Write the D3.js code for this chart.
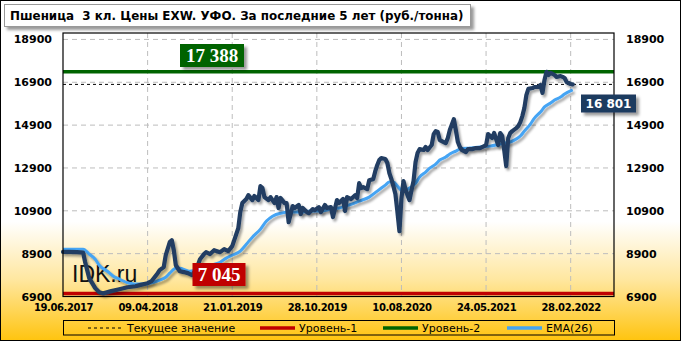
<!DOCTYPE html>
<html><head><meta charset="utf-8">
<script src="https://cdn.jsdelivr.net/npm/d3@7"></script>
<style>html,body{margin:0;padding:0;background:#fff}svg{display:block}</style>
</head><body>
<script>
// ---- data ----
const titleText = "Пшеница  3 кл. Цены EXW. УФО. За последние 5 лет (руб./тонна)";
const xTickIndex = [0, 42, 84, 126, 168, 210, 252];
const xTickLabels = ["19.06.2017","09.04.2018","21.01.2019","28.10.2019","10.08.2020","24.05.2021","28.02.2022"];
const yTicks = [6900, 8900, 10900, 12900, 14900, 16900, 18900];
const level1 = 7045, level2 = 17388, currentValue = 16801;
const priceIndex = [0,3,7,10,11,13,16,18,20,24,28,32,36,38,42,44,47,48,50,51,53,54,55,56,58,60,62,64,66,68,70,71,73,75,78,80,82,84,85,87,88,89,91,92,94,95,97,98,99,100,102,103,105,106,107,108,110,111,112,114,115,117,118,119,121,122,124,125,127,128,130,131,133,134,136,137,139,140,141,143,145,146,147,148,149,151,152,154,155,156,157,158,160,161,162,163,164,165,166,167,168,169,170,171,172,173,174,175,176,177,179,180,181,183,184,185,186,187,189,190,191,192,194,195,196,197,198,200,201,203,205,207,209,210,211,213,214,216,217,218,219,220,221,222,223,225,226,227,228,229,230,231,233,234,236,237,238,239,240,241,242,244,245,247,248,249,250,252,253];
const priceValues = [8980,8980,8970,8950,8500,7760,7290,7100,7045,7150,7240,7330,7380,7430,7520,7620,7990,8130,8270,8830,9440,9530,9060,8360,8080,8040,7990,7900,8130,8640,8880,8970,8880,9060,8970,9110,9020,9250,9530,10090,10840,11260,11450,11630,11400,11590,11400,12050,11960,11540,11400,11540,11260,11540,11030,11500,11260,11260,10370,11120,11030,11170,10750,11030,10840,10790,10980,10930,11070,10840,11170,11030,11070,10610,11400,11260,11450,10890,11540,11450,11630,11490,12190,11960,12010,11910,12330,12380,12750,13040,13270,13360,13320,13130,12660,12380,12050,11680,10840,9950,11490,12290,11910,11630,11400,11870,12290,13180,13600,13780,13740,13880,13740,13970,14480,14620,14580,14200,14110,14060,14300,14670,15180,14670,14110,13880,13740,13640,13780,13780,13830,13830,13920,13970,14480,14300,14530,13970,14530,14390,13740,12990,14300,14530,14620,14760,14860,15040,15320,15700,16300,16590,16630,16680,16680,16770,16400,17010,17388,17240,17340,17240,17150,17190,17150,17100,16910,16820,16801];
const emaIndex = [0,10,13,16,18,22,25,28,33,38,43,48,51,53,56,58,61,63,68,73,78,81,84,88,91,94,98,101,104,108,113,118,123,128,133,137,142,147,152,156,160,162,164,166,168,170,172,175,177,180,182,185,187,190,192,195,197,202,207,212,217,219,222,224,227,229,232,234,237,239,242,244,247,249,253];
const emaValues = [9110,9110,8880,8640,8360,8080,7850,7710,7520,7480,7520,7660,7800,7990,8220,8220,8130,8080,8220,8360,8500,8690,8830,9020,9340,9670,10040,10420,10650,10790,10840,10840,10890,10890,10980,11030,11170,11350,11540,11820,12100,12240,12240,12050,11870,11870,11960,12190,12470,12710,12890,13080,13270,13410,13550,13690,13780,13830,13880,13920,14020,14060,14110,14200,14390,14620,14950,15230,15510,15750,15930,16070,16210,16350,16540];
const legendItems = [
  {label:"Текущее значение", color:"#000", width:1, dash:"3,3"},
  {label:"Уровень-1", color:"#c00000", width:3.5, dash:null},
  {label:"Уровень-2", color:"#006400", width:3.5, dash:null},
  {label:"EMA(26)", color:"#44a4f4", width:3.5, dash:null}
];

// ---- layout ----
const W = 681, H = 341;
const plot = {l:63, r:614, t:33, b:296.5};
const svg = d3.select("body").append("svg").attr("width", W).attr("height", H);
const defs = svg.append("defs");
const grad = defs.append("linearGradient").attr("id","bg").attr("x1",0).attr("y1",0).attr("x2",0).attr("y2",1);
grad.append("stop").attr("offset","0").attr("stop-color","#ffffff");
grad.append("stop").attr("offset","0.65").attr("stop-color","#ffffff");
grad.append("stop").attr("offset","0.82").attr("stop-color","#ffe7a0");
grad.append("stop").attr("offset","1").attr("stop-color","#ffc40f");
const sh = defs.append("filter").attr("id","sh").attr("x","-10%").attr("y","-10%").attr("width","130%").attr("height","140%");
sh.append("feDropShadow").attr("dx",2).attr("dy",2.5).attr("stdDeviation",1.3).attr("flood-color","#000").attr("flood-opacity",0.35);
const bsh = defs.append("filter").attr("id","bsh").attr("x","-10%").attr("y","-10%").attr("width","130%").attr("height","150%");
bsh.append("feDropShadow").attr("dx",3).attr("dy",3).attr("stdDeviation",1.5).attr("flood-color","#000").attr("flood-opacity",0.4);

svg.append("rect").attr("x",0.5).attr("y",0.5).attr("width",W-1).attr("height",H-1)
  .attr("fill","url(#bg)").attr("stroke","#000").attr("stroke-width",1);

// title
svg.append("rect").attr("x",4.5).attr("y",4.5).attr("width",466).attr("height",22)
  .attr("fill","#fff").attr("stroke","#999").attr("filter","url(#bsh)");
svg.append("text").attr("x",10).attr("y",20).attr("font-family","DejaVu Sans, Verdana, sans-serif")
  .attr("font-weight","bold").attr("font-size","11.9px").attr("fill","#000")
  .style("white-space","pre").text(titleText);

// scales
const x = d3.scaleLinear().domain([0, 273.5]).range([plot.l, plot.r]);
const y = d3.scaleLinear().domain([6900, 19200]).range([plot.b, plot.t]);

// grid
const g = svg.append("g");
g.selectAll(".hg").data(yTicks.filter(v => v > 6900)).join("line")
  .attr("x1",plot.l).attr("x2",plot.r).attr("y1",d=>y(d)).attr("y2",d=>y(d))
  .attr("stroke","#bdbdbd").attr("stroke-dasharray","5,4").attr("stroke-width",1);
g.selectAll(".vg").data(xTickIndex.filter(v => v > 0)).join("line")
  .attr("x1",d=>x(d)).attr("x2",d=>x(d)).attr("y1",plot.t).attr("y2",plot.b)
  .attr("stroke","#bdbdbd").attr("stroke-dasharray","5,4").attr("stroke-width",1);

// axes labels (via d3 axes)
const fontAxis = "DejaVu Sans, Verdana, sans-serif";
const yl = svg.append("g").attr("transform",`translate(${plot.l},0)`)
  .call(d3.axisLeft(y).tickValues(yTicks).tickSize(0).tickPadding(11).tickFormat(d3.format("d")));
const yr = svg.append("g").attr("transform",`translate(${plot.r},0)`)
  .call(d3.axisRight(y).tickValues(yTicks).tickSize(0).tickPadding(12).tickFormat(d3.format("d")));
const xa = svg.append("g").attr("transform",`translate(0,${plot.b})`)
  .call(d3.axisBottom(x).tickValues(xTickIndex).tickSize(0).tickPadding(7).tickFormat((d,i)=>xTickLabels[i]));
[yl, yr, xa].forEach(a => {
  a.select(".domain").remove();
  a.selectAll("text").attr("font-family",fontAxis).attr("font-weight","bold").attr("fill","#000");
});
yl.selectAll("text").attr("font-size","11px");
yr.selectAll("text").attr("font-size","11px");
xa.selectAll("text").attr("font-size","10px").attr("letter-spacing","-0.4px");

// watermark
svg.append("text").attr("x",72).attr("y",282).attr("font-family","Liberation Sans, Arial, sans-serif")
  .attr("font-size","23px").attr("fill","#111").text("IDK.ru");

// levels
svg.append("line").attr("x1",plot.l).attr("x2",plot.r).attr("y1",y(level1)).attr("y2",y(level1))
  .attr("stroke","#c00000").attr("stroke-width",3.5);
svg.append("line").attr("x1",plot.l).attr("x2",plot.r).attr("y1",y(level2)).attr("y2",y(level2))
  .attr("stroke","#006400").attr("stroke-width",3.5);
svg.append("line").attr("x1",plot.l).attr("x2",plot.r).attr("y1",y(currentValue)).attr("y2",y(currentValue))
  .attr("stroke","#000").attr("stroke-width",1).attr("stroke-dasharray","3,3");

// series
const ema = emaIndex.map((d,i)=>[d, emaValues[i]]);
const price = priceIndex.map((d,i)=>[d, priceValues[i]]);
svg.append("path").datum(ema).attr("fill","none").attr("stroke","#44a4f4").attr("stroke-width",3)
  .attr("filter","url(#sh)")
  .attr("d", d3.line().x(d=>x(d[0])).y(d=>y(d[1])).curve(d3.curveMonotoneX));
svg.append("path").datum(price).attr("fill","none").attr("stroke","#203d62").attr("stroke-width",4.2)
  .attr("stroke-linejoin","round").attr("stroke-linecap","round").attr("filter","url(#sh)")
  .attr("d", d3.line().x(d=>x(d[0])).y(d=>y(d[1])));

// plot border
svg.append("rect").attr("x",plot.l).attr("y",plot.t).attr("width",plot.r-plot.l).attr("height",plot.b-plot.t)
  .attr("fill","none").attr("stroke","#000").attr("stroke-width",1.2);

// value labels
function valBox(cx, cy, w, h, bg, txt, font, size) {
  const gg = svg.append("g");
  gg.append("rect").attr("x",cx - w/2).attr("y",cy - h/2).attr("width",w).attr("height",h)
    .attr("fill",bg).attr("filter","url(#bsh)");
  gg.append("text").attr("x",cx).attr("y",cy).attr("text-anchor","middle").attr("dominant-baseline","central")
    .attr("font-family",font).attr("font-weight","bold").attr("font-size",size).attr("fill","#fff").text(txt);
}
const fmt = v => d3.format(",")(v).replace(/,/g," ");
valBox(212, 55.5, 64, 23, "#006400", fmt(level2), "Liberation Serif, Times New Roman, serif", "19px");
valBox(219, 274.5, 53, 23, "#c00000", fmt(level1), "Liberation Serif, Times New Roman, serif", "19px");
valBox(608.5, 103.5, 55, 18, "#1e3a5f", fmt(currentValue), "DejaVu Sans, Verdana, sans-serif", "12px");

// legend
const lg = svg.append("g");
lg.append("rect").attr("x",63.5).attr("y",320.5).attr("width",551).attr("height",14.5)
  .attr("fill","none").attr("stroke","#000").attr("stroke-width",1);
const lx = [88, 260, 383, 507];
legendItems.forEach((it,i)=>{
  lg.append("line").attr("x1",lx[i]).attr("x2",lx[i]+35).attr("y1",328).attr("y2",328)
    .attr("stroke",it.color).attr("stroke-width",it.width).attr("stroke-dasharray",it.dash);
  lg.append("text").attr("x",lx[i]+39).attr("y",332).attr("font-family","DejaVu Sans, Verdana, sans-serif")
    .attr("font-size","11px").attr("fill","#000").text(it.label);
});
</script>
</body></html>
